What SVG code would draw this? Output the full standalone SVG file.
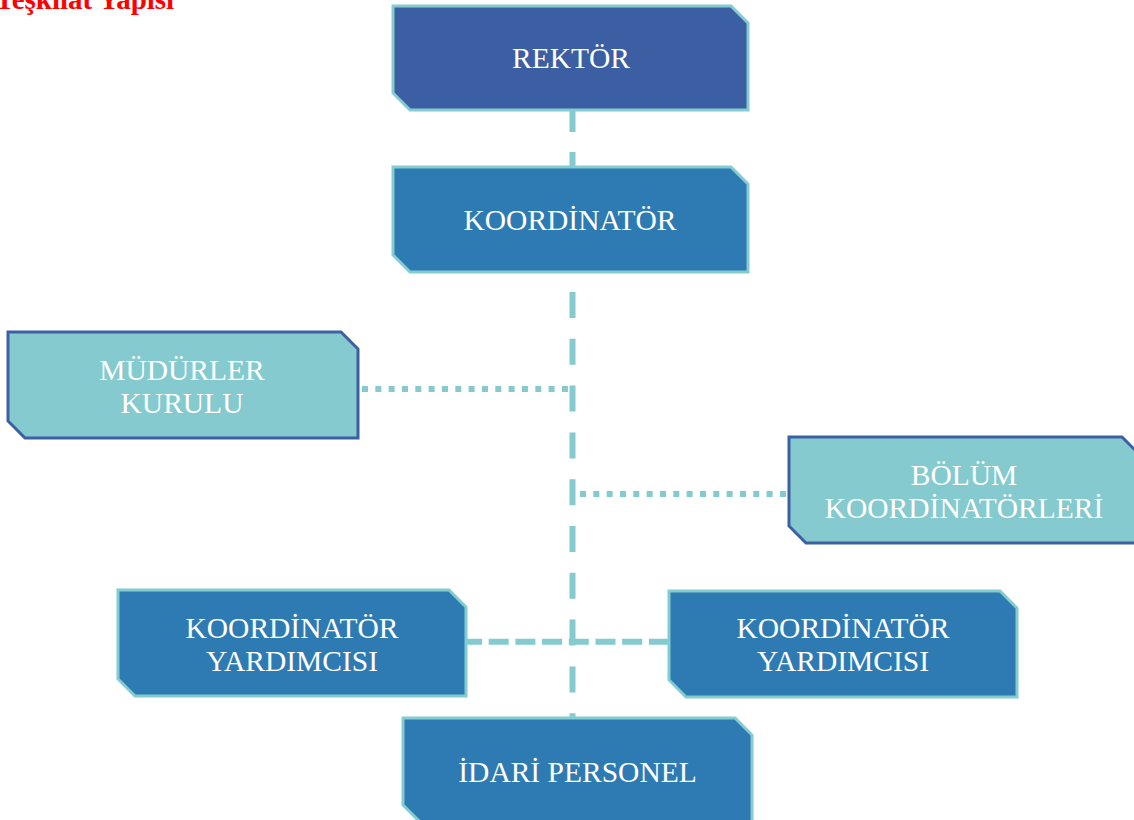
<svg xmlns="http://www.w3.org/2000/svg" width="1134" height="820" viewBox="0 0 1134 820">
<style>
.dark{fill:#2E7BB4;stroke:#83CCD0;stroke-width:3}
.top{fill:#3C5EA2;stroke:#83CCD0;stroke-width:3}
.light{fill:#84CACE;stroke:#3D5FA3;stroke-width:3}
.t{font-family:"Liberation Serif","Times New Roman",serif;font-size:29.5px;fill:#FFFFFF;text-anchor:middle}
.c{fill:none;stroke:#84CACE;stroke-width:6}
.dash{stroke-dasharray:26 20.8}
.dot{stroke-dasharray:6 7.33}
.hdash{stroke-dasharray:20 6.7}
</style>
<rect width="1134" height="820" fill="#FFFFFF"/>
<text x="-5" y="9" font-family="'Liberation Serif','Times New Roman',serif" font-size="29" font-weight="bold" fill="#FF0000">Teşkilat Yapısı</text>
<g id="connectors">
<line class="c" x1="572.5" y1="110" x2="572.5" y2="167" style="stroke-dasharray:22 20"/>
<line class="c dash" x1="572.5" y1="292" x2="572.5" y2="718"/>
<line class="c dot" x1="362" y1="389" x2="569" y2="389"/>
<line class="c dot" x1="580" y1="494" x2="788" y2="494"/>
<line class="c hdash" x1="462" y1="641.7" x2="669" y2="641.7"/>
</g>
<g id="rektor">
<path class="top" d="M393,6 H731 L748,23 V110 H410 L393,93 Z"/>
<text class="t" x="571" y="68">REKTÖR</text>
</g>
<g id="koordinator">
<path class="dark" d="M393,167 H731 L748,184 V272 H410 L393,255 Z"/>
<text class="t" x="570" y="230">KOORDİNATÖR</text>
</g>
<g id="mudurler-kurulu">
<path class="light" d="M8,332 H341 L358,349 V438 H25 L8,421 Z"/>
<text class="t" x="182" y="380">MÜDÜRLER</text>
<text class="t" x="182" y="413">KURULU</text>
</g>
<g id="bolum-koordinatorleri">
<path class="light" d="M789,437 H1122 L1139,454 V543 H806 L789,526 Z"/>
<text class="t" x="964" y="485">BÖLÜM</text>
<text class="t" x="964" y="518">KOORDİNATÖRLERİ</text>
</g>
<g id="koordinator-yardimcisi-left">
<path class="dark" d="M118,590 H449 L466,607 V696 H135 L118,679 Z"/>
<text class="t" x="292" y="638">KOORDİNATÖR</text>
<text class="t" x="292" y="671">YARDIMCISI</text>
</g>
<g id="koordinator-yardimcisi-right">
<path class="dark" d="M669,591 H1000 L1017,608 V697 H686 L669,680 Z"/>
<text class="t" x="843" y="638">KOORDİNATÖR</text>
<text class="t" x="843" y="671">YARDIMCISI</text>
</g>
<g id="idari-personel">
<path class="dark" d="M403,718 H735 L752,735 V822 H420 L403,805 Z"/>
<text class="t" x="577.5" y="782">İDARİ PERSONEL</text>
</g>
</svg>
